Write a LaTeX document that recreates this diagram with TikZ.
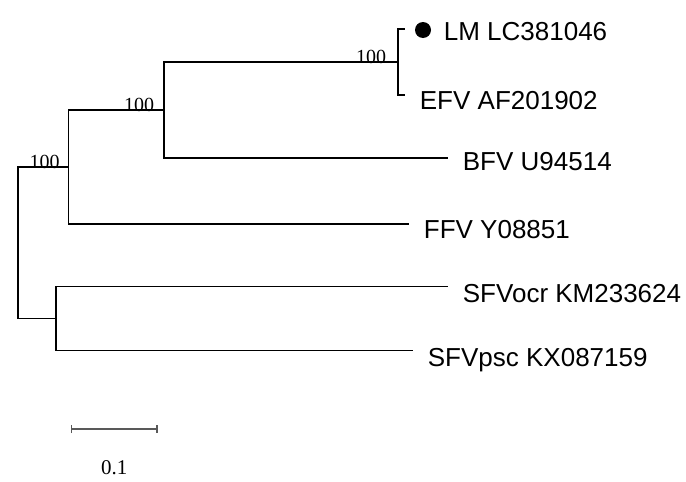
\documentclass[tikz,border=0pt]{standalone}
\usepackage{fontspec}
\setmainfont{Liberation Serif}
\setsansfont{Liberation Sans}
\usetikzlibrary{calc, arrows.meta}

\begin{document}
\begin{tikzpicture}[x=1pt, y=-1pt, font=\sffamily, line width=1.8pt,
	taxon/.style={anchor=base west, inner sep=0pt, font=\sffamily\fontsize{26}{30}\selectfont},
	boot/.style={anchor=base east, inner sep=0pt, font=\rmfamily\fontsize{20}{24}\selectfont}]
	\useasboundingbox (0,0) rectangle (686,482);
	\def\tx{14}
	\def\ty{14}

	% internal nodes
	\coordinate (root)	at (18,242.5);
	\coordinate (nA)	at (68.5,167);
	\coordinate (nB)	at (164,110);
	\coordinate (nC)	at (398,62);
	\coordinate (nD)	at (56,318.5);

	% tips
	\coordinate (tLM)	at (405,29);
	\coordinate (tEFV)	at (405,95);
	\coordinate (tBFV)	at (448,158);
	\coordinate (tFFV)	at (409,224);
	\coordinate (tOCR)	at (448,286.5);
	\coordinate (tPSC)	at (413,350.5);

	% branches
	\draw	(root) |- (nA);
	\draw	(root) |- (nD);
	\draw	(nA) |- (nB);
	\draw	(nA) |- (tFFV);
	\draw	(nB) |- (nC);
	\draw	(nB) |- (tBFV);
	\draw	(nC) |- (tLM);
	\draw	(nC) |- (tEFV);
	\draw	(nD) |- (tOCR);
	\draw	(nD) |- (tPSC);

	% bootstrap values
	\node[boot] (bA) at ($(nA)+(-8,1)$) {100};
	\node[boot] (bB) at ($(nB)+(-9,1)$) {100};
	\node[boot] (bC) at ($(nC)+(-11,1)$) {100};

	% taxa
	\node[circle, fill, minimum size=16pt, inner sep=0pt] (dot) at ($(tLM)+(18,1)$) {};
	\node[taxon] (lLM)	at ($(tLM)+(38,11)$) {LM LC381046};
	\node[taxon] (lEFV)	at ($(tEFV)+(\tx,\ty)$) {EFV AF201902};
	\node[taxon] (lBFV)	at ($(tBFV)+(\tx,12)$) {BFV U94514};
	\node[taxon] (lFFV)	at ($(tFFV)+(\tx,\ty)$) {FFV Y08851};
	\node[taxon] (lOCR)	at ($(tOCR)+(\tx,16)$) {SFVocr KM233624};
	\node[taxon] (lPSC)	at ($(tPSC)+(\tx,16)$) {SFVpsc KX087159};

	% scale bar
	\coordinate (sL) at (71,429);
	\coordinate (sR) at (157.5,429);
	\draw[gray!70!black, line width=1.4pt, {Bar[width=8pt]}-{Bar[width=8pt]}]	(sL) -- (sR);
	\node[font=\rmfamily\fontsize{21}{24}\selectfont] (scale) at ($(sL)!0.5!(sR)+(0,39)$) {0.1};
\end{tikzpicture}
\end{document}
